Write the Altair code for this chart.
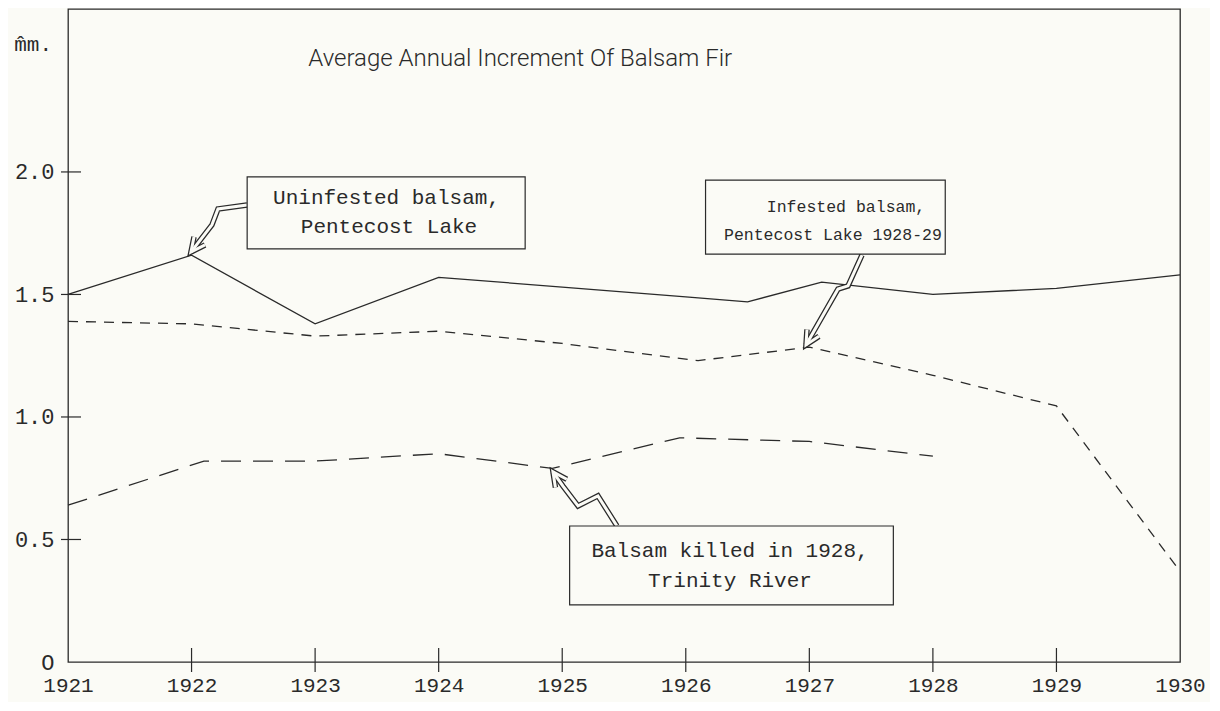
import altair as alt
import pandas as pd

# ---- data ----
uninf_years = [1921, 1922, 1923, 1924, 1925, 1926, 1926.5, 1927.1, 1928, 1929, 1930]
uninf_vals  = [1.50, 1.66, 1.38, 1.57, 1.53, 1.49, 1.47, 1.55, 1.50, 1.525, 1.58]

inf_years = [1921, 1922, 1923, 1924, 1925, 1926.1, 1927, 1928, 1929, 1930]
inf_vals  = [1.39, 1.38, 1.33, 1.35, 1.30, 1.23, 1.285, 1.17, 1.045, 0.37]

kill_years = [1921, 1922.1, 1923, 1924, 1924.92, 1925.95, 1927, 1928]
kill_vals  = [0.64, 0.82, 0.82, 0.85, 0.79, 0.915, 0.90, 0.84]

x_ticks = [1921, 1922, 1923, 1924, 1925, 1926, 1927, 1928, 1929, 1930]
y_ticks = [0, 0.5, 1.0, 1.5, 2.0]

title_text = "Average Annual Increment Of Balsam Fir"
unit_text = "m\u0302m."

# annotation boxes (data units)
box_x1 = [1922.45, 1926.16, 1925.06]
box_x2 = [1924.70, 1928.10, 1927.68]
box_y1 = [1.980, 1.967, 0.555]
box_y2 = [1.686, 1.665, 0.233]
box_line1 = ["Uninfested balsam,", "Infested balsam,", "Balsam killed in 1928,"]
box_line2 = ["Pentecost Lake", "Pentecost Lake 1928-29", "Trinity River"]
box_l1x = [1923.578, 1927.297, 1926.358]
box_l2x = [1923.598, 1927.191, 1926.358]
box_l1y = [1.895, 1.857, 0.454]
box_l2y = [1.775, 1.743, 0.331]
box_fsize = [21, 16.5, 21]

# arrow paths (data units)
arrow_id = [1, 1, 1, 1, 2, 2, 2, 2, 3, 3, 3, 3, 3]
arrow_x = [1922.449, 1922.214, 1922.165, 1921.995,
           1927.426, 1927.313, 1927.232, 1926.973,
           1925.443, 1925.289, 1925.128, 1925.006, 1924.925]
arrow_y = [1.865, 1.849, 1.784, 1.673,
           1.661, 1.535, 1.522, 1.294,
           0.555, 0.678, 0.637, 0.718, 0.776]
head_id = [1, 1, 1, 2, 2, 2, 3, 3, 3]
head_x = [1922.109, 1921.995, 1922.020,
          1927.078, 1926.973, 1926.981,
          1925.037, 1924.925, 1924.945]
head_y = [1.702, 1.673, 1.735,
          1.329, 1.294, 1.357,
          0.746, 0.776, 0.712]

# ---- build ----
W, H = 1112, 653
XD = [1921, 1930]
YD = [0, 2.665]
BG = "#fbfbf6"
INK = "#2a2a2a"
MONO = "Liberation Mono"

xs = alt.Scale(domain=XD, nice=False, zero=False)
ys = alt.Scale(domain=YD, nice=False, zero=False)

df_u = pd.DataFrame({"year": uninf_years, "v": uninf_vals})
df_i = pd.DataFrame({"year": inf_years, "v": inf_vals})
df_k = pd.DataFrame({"year": kill_years, "v": kill_vals})

base_x = alt.X("year:Q", scale=xs, axis=alt.Axis(
    values=x_ticks, format="d", ticks=False, domain=False,
    grid=False, labelFont=MONO, labelFontSize=21, labelColor=INK, labelPadding=12,
    title=None, labelFlush=False))
base_y = alt.Y("v:Q", scale=ys, axis=alt.Axis(
    values=y_ticks, labelExpr="datum.value == 0 ? 'O' : format(datum.value, '.1f')",
    ticks=False, domain=False, grid=False, labelFont=MONO, labelFontSize=22,
    labelColor=INK, labelPadding=14, title=None))

XQ = alt.X("year:Q", scale=xs)
YQ = alt.Y("v:Q", scale=ys)

l_u = alt.Chart(df_u).mark_line(color=INK, strokeWidth=1.3).encode(x=base_x, y=base_y)
l_i = alt.Chart(df_i).mark_line(color=INK, strokeWidth=1.3, strokeDash=[10, 8]).encode(x=XQ, y=YQ)
l_k = alt.Chart(df_k).mark_line(color=INK, strokeWidth=1.3, strokeDash=[20, 12]).encode(x=XQ, y=YQ)

# crosshair ticks
df_yt = pd.DataFrame({"v": [t for t in y_ticks if t > 0]})
yt = alt.Chart(df_yt).mark_rule(color=INK, strokeWidth=1.2).encode(
    y=YQ, x=alt.value(-7), x2=alt.value(13))
df_xt = pd.DataFrame({"year": x_ticks[1:-1]})
xt = alt.Chart(df_xt).mark_rule(color=INK, strokeWidth=1.2).encode(
    x=XQ, y=alt.value(H - 14), y2=alt.value(H + 10))

# title
df_t = pd.DataFrame({"year": [1924.66], "v": [2.46], "t": [title_text]})
tt = alt.Chart(df_t).mark_text(font="Roboto", fontWeight=300, fontSize=24, color=INK).encode(
    x=XQ, y=YQ, text="t:N")

df_unit = pd.DataFrame({"year": [1921], "v": [2.52], "t": [unit_text]})
ut = alt.Chart(df_unit).mark_text(font=MONO, fontSize=21, color=INK, align="right", dx=-16).encode(
    x=XQ, y=YQ, text="t:N")

# boxes
df_b = pd.DataFrame({"x1": box_x1, "x2": box_x2, "y1": box_y1, "y2": box_y2,
                     "l1": box_line1, "l2": box_line2,
                     "l1x": box_l1x, "l2x": box_l2x, "l1y": box_l1y, "l2y": box_l2y,
                     "fs": box_fsize})
boxes = alt.Chart(df_b).mark_rect(fill=BG, stroke=INK, strokeWidth=1.2).encode(
    x=alt.X("x1:Q", scale=xs), x2="x2:Q", y=alt.Y("y1:Q", scale=ys), y2="y2:Q")
t1 = alt.Chart(df_b).mark_text(font=MONO, color=INK).encode(
    x=alt.X("l1x:Q", scale=xs), y=alt.Y("l1y:Q", scale=ys), text="l1:N",
    size=alt.Size("fs:Q", scale=None, legend=None))
t2 = alt.Chart(df_b).mark_text(font=MONO, color=INK).encode(
    x=alt.X("l2x:Q", scale=xs), y=alt.Y("l2y:Q", scale=ys), text="l2:N",
    size=alt.Size("fs:Q", scale=None, legend=None))

# arrows (hollow: thick ink stroke with a thinner background stroke on top)
df_a = pd.DataFrame({"id": arrow_id, "x": arrow_x, "y": arrow_y})
df_a["o"] = range(len(df_a))
df_h = pd.DataFrame({"id": head_id, "x": head_x, "y": head_y})
df_h["o"] = range(len(df_h))

def path(df, color, w):
    return alt.Chart(df).mark_line(color=color, strokeWidth=w, strokeJoin="miter",
                                   strokeCap="butt").encode(
        x=alt.X("x:Q", scale=xs), y=alt.Y("y:Q", scale=ys), detail="id:N", order="o:Q")

arr_o = path(df_a, INK, 5.5)
hd_o = path(df_h, INK, 5.5)
arr_i = path(df_a, BG, 3.0)
hd_i = path(df_h, BG, 3.0)

chart = alt.layer(l_u, l_i, l_k, yt, xt, arr_o, hd_o, arr_i, hd_i, boxes, t1, t2, tt, ut).properties(
    width=W, height=H,
    autosize=alt.AutoSizeParams(type="none"),
    padding={"left": 60, "top": 1, "right": 30, "bottom": 40},
    background=BG,
).configure_view(stroke=INK, strokeWidth=1.3)

chart.save("out.html", embed_options={"renderer": "svg", "actions": False})
